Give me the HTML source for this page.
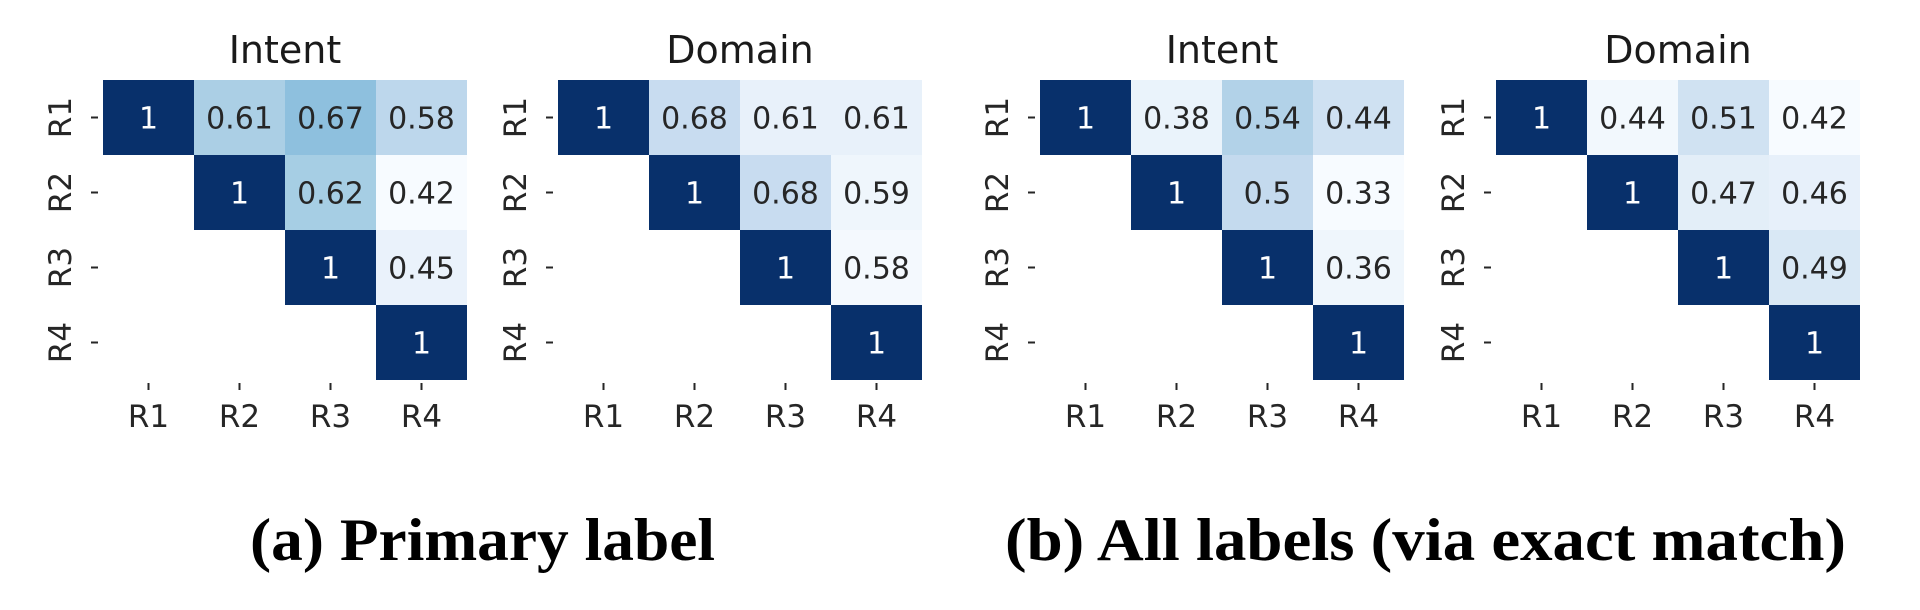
<!DOCTYPE html>
<html><head><meta charset="utf-8"><style>
html,body{margin:0;padding:0;background:#fff;}
svg{display:block;}
.t{font-family:"DejaVu Sans","Liberation Sans",sans-serif;}
.n{font-size:30px;fill:#262626;text-anchor:middle;}
.w{font-size:30px;fill:#fff;text-anchor:middle;}
.k{font-size:31px;fill:#262626;text-anchor:middle;}
.ti{font-size:38px;fill:#1a1a1a;text-anchor:middle;}
.cap{font-family:"Liberation Serif",serif;font-weight:bold;font-size:60px;fill:#000;}
</style></head><body>
<svg width="1920" height="610" viewBox="0 0 1920 610" xmlns="http://www.w3.org/2000/svg">

<g class="t">
<text class="ti" x="285" y="63">Intent</text>
<rect x="103" y="80" width="91" height="75" fill="#08306b"/>
<rect x="194" y="80" width="91" height="75" fill="#abcfe5"/>
<rect x="285" y="80" width="91" height="75" fill="#8ec0de"/>
<rect x="376" y="80" width="91" height="75" fill="#bdd7ec"/>
<rect x="194" y="155" width="91" height="75" fill="#08306b"/>
<rect x="285" y="155" width="91" height="75" fill="#a6cee4"/>
<rect x="376" y="155" width="91" height="75" fill="#f7fbff"/>
<rect x="285" y="230" width="91" height="75" fill="#08306b"/>
<rect x="376" y="230" width="91" height="75" fill="#eaf2fb"/>
<rect x="376" y="305" width="91" height="75" fill="#08306b"/>
<text class="w" x="148.5" y="128.5">1</text>
<text class="n" x="239.5" y="128.5">0.61</text>
<text class="n" x="330.5" y="128.5">0.67</text>
<text class="n" x="421.5" y="128.5">0.58</text>
<text class="w" x="239.5" y="203.5">1</text>
<text class="n" x="330.5" y="203.5">0.62</text>
<text class="n" x="421.5" y="203.5">0.42</text>
<text class="w" x="330.5" y="278.5">1</text>
<text class="n" x="421.5" y="278.5">0.45</text>
<text class="w" x="421.5" y="353.5">1</text>
</g>

<g class="t">
<text class="ti" x="740" y="63">Domain</text>
<rect x="558" y="80" width="91" height="75" fill="#08306b"/>
<rect x="649" y="80" width="91" height="75" fill="#c8dcf0"/>
<rect x="740" y="80" width="91" height="75" fill="#e8f1fa"/>
<rect x="831" y="80" width="91" height="75" fill="#e8f1fa"/>
<rect x="649" y="155" width="91" height="75" fill="#08306b"/>
<rect x="740" y="155" width="91" height="75" fill="#c8dcf0"/>
<rect x="831" y="155" width="91" height="75" fill="#eff6fc"/>
<rect x="740" y="230" width="91" height="75" fill="#08306b"/>
<rect x="831" y="230" width="91" height="75" fill="#f4f9fe"/>
<rect x="831" y="305" width="91" height="75" fill="#08306b"/>
<text class="w" x="603.5" y="128.5">1</text>
<text class="n" x="694.5" y="128.5">0.68</text>
<text class="n" x="785.5" y="128.5">0.61</text>
<text class="n" x="876.5" y="128.5">0.61</text>
<text class="w" x="694.5" y="203.5">1</text>
<text class="n" x="785.5" y="203.5">0.68</text>
<text class="n" x="876.5" y="203.5">0.59</text>
<text class="w" x="785.5" y="278.5">1</text>
<text class="n" x="876.5" y="278.5">0.58</text>
<text class="w" x="876.5" y="353.5">1</text>
</g>

<g class="t">
<text class="ti" x="1222" y="63">Intent</text>
<rect x="1040" y="80" width="91" height="75" fill="#08306b"/>
<rect x="1131" y="80" width="91" height="75" fill="#eaf3fb"/>
<rect x="1222" y="80" width="91" height="75" fill="#b2d2e8"/>
<rect x="1313" y="80" width="91" height="75" fill="#cfe1f2"/>
<rect x="1131" y="155" width="91" height="75" fill="#08306b"/>
<rect x="1222" y="155" width="91" height="75" fill="#c4daee"/>
<rect x="1313" y="155" width="91" height="75" fill="#f7fbff"/>
<rect x="1222" y="230" width="91" height="75" fill="#08306b"/>
<rect x="1313" y="230" width="91" height="75" fill="#eff6fc"/>
<rect x="1313" y="305" width="91" height="75" fill="#08306b"/>
<text class="w" x="1085.5" y="128.5">1</text>
<text class="n" x="1176.5" y="128.5">0.38</text>
<text class="n" x="1267.5" y="128.5">0.54</text>
<text class="n" x="1358.5" y="128.5">0.44</text>
<text class="w" x="1176.5" y="203.5">1</text>
<text class="n" x="1267.5" y="203.5">0.5</text>
<text class="n" x="1358.5" y="203.5">0.33</text>
<text class="w" x="1267.5" y="278.5">1</text>
<text class="n" x="1358.5" y="278.5">0.36</text>
<text class="w" x="1358.5" y="353.5">1</text>
</g>

<g class="t">
<text class="ti" x="1678" y="63">Domain</text>
<rect x="1496" y="80" width="91" height="75" fill="#08306b"/>
<rect x="1587" y="80" width="91" height="75" fill="#f2f8fd"/>
<rect x="1678" y="80" width="91" height="75" fill="#d0e2f2"/>
<rect x="1769" y="80" width="91" height="75" fill="#f7fbff"/>
<rect x="1587" y="155" width="91" height="75" fill="#08306b"/>
<rect x="1678" y="155" width="91" height="75" fill="#e3eef8"/>
<rect x="1769" y="155" width="91" height="75" fill="#e7f0fa"/>
<rect x="1678" y="230" width="91" height="75" fill="#08306b"/>
<rect x="1769" y="230" width="91" height="75" fill="#d9e8f5"/>
<rect x="1769" y="305" width="91" height="75" fill="#08306b"/>
<text class="w" x="1541.5" y="128.5">1</text>
<text class="n" x="1632.5" y="128.5">0.44</text>
<text class="n" x="1723.5" y="128.5">0.51</text>
<text class="n" x="1814.5" y="128.5">0.42</text>
<text class="w" x="1632.5" y="203.5">1</text>
<text class="n" x="1723.5" y="203.5">0.47</text>
<text class="n" x="1814.5" y="203.5">0.46</text>
<text class="w" x="1723.5" y="278.5">1</text>
<text class="n" x="1814.5" y="278.5">0.49</text>
<text class="w" x="1814.5" y="353.5">1</text>
</g>

<g class="t" stroke="#262626" stroke-width="2">
<path d="M91 117.5H98M91 192.5H98M91 267.5H98M91 342.5H98"/>
<path d="M148.5 383V390M239.5 383V390M330.5 383V390M421.5 383V390"/>
<path d="M546 117.5H553M546 192.5H553M546 267.5H553M546 342.5H553"/>
<path d="M603.5 383V390M694.5 383V390M785.5 383V390M876.5 383V390"/>
<path d="M1028 117.5H1035M1028 192.5H1035M1028 267.5H1035M1028 342.5H1035"/>
<path d="M1085.5 383V390M1176.5 383V390M1267.5 383V390M1358.5 383V390"/>
<path d="M1484 117.5H1491M1484 192.5H1491M1484 267.5H1491M1484 342.5H1491"/>
<path d="M1541.5 383V390M1632.5 383V390M1723.5 383V390M1814.5 383V390"/>
</g>
<g class="t">
<text class="k" x="148.5" y="427">R1</text><text class="k" x="239.5" y="427">R2</text><text class="k" x="330.5" y="427">R3</text><text class="k" x="421.5" y="427">R4</text>
<text class="k" x="603.5" y="427">R1</text><text class="k" x="694.5" y="427">R2</text><text class="k" x="785.5" y="427">R3</text><text class="k" x="876.5" y="427">R4</text>
<text class="k" x="1085.5" y="427">R1</text><text class="k" x="1176.5" y="427">R2</text><text class="k" x="1267.5" y="427">R3</text><text class="k" x="1358.5" y="427">R4</text>
<text class="k" x="1541.5" y="427">R1</text><text class="k" x="1632.5" y="427">R2</text><text class="k" x="1723.5" y="427">R3</text><text class="k" x="1814.5" y="427">R4</text>

<text class="k" transform="translate(71 117.5) rotate(-90)">R1</text>
<text class="k" transform="translate(71 192.5) rotate(-90)">R2</text>
<text class="k" transform="translate(71 267.5) rotate(-90)">R3</text>
<text class="k" transform="translate(71 342.5) rotate(-90)">R4</text>
<text class="k" transform="translate(526 117.5) rotate(-90)">R1</text>
<text class="k" transform="translate(526 192.5) rotate(-90)">R2</text>
<text class="k" transform="translate(526 267.5) rotate(-90)">R3</text>
<text class="k" transform="translate(526 342.5) rotate(-90)">R4</text>
<text class="k" transform="translate(1008 117.5) rotate(-90)">R1</text>
<text class="k" transform="translate(1008 192.5) rotate(-90)">R2</text>
<text class="k" transform="translate(1008 267.5) rotate(-90)">R3</text>
<text class="k" transform="translate(1008 342.5) rotate(-90)">R4</text>
<text class="k" transform="translate(1464 117.5) rotate(-90)">R1</text>
<text class="k" transform="translate(1464 192.5) rotate(-90)">R2</text>
<text class="k" transform="translate(1464 267.5) rotate(-90)">R3</text>
<text class="k" transform="translate(1464 342.5) rotate(-90)">R4</text>
</g>

<text class="cap" x="250" y="560" textLength="465" lengthAdjust="spacingAndGlyphs">(a) Primary label</text>
<text class="cap" x="1005" y="560" textLength="841" lengthAdjust="spacingAndGlyphs">(b) All labels (via exact match)</text>
</svg>
</body></html>
